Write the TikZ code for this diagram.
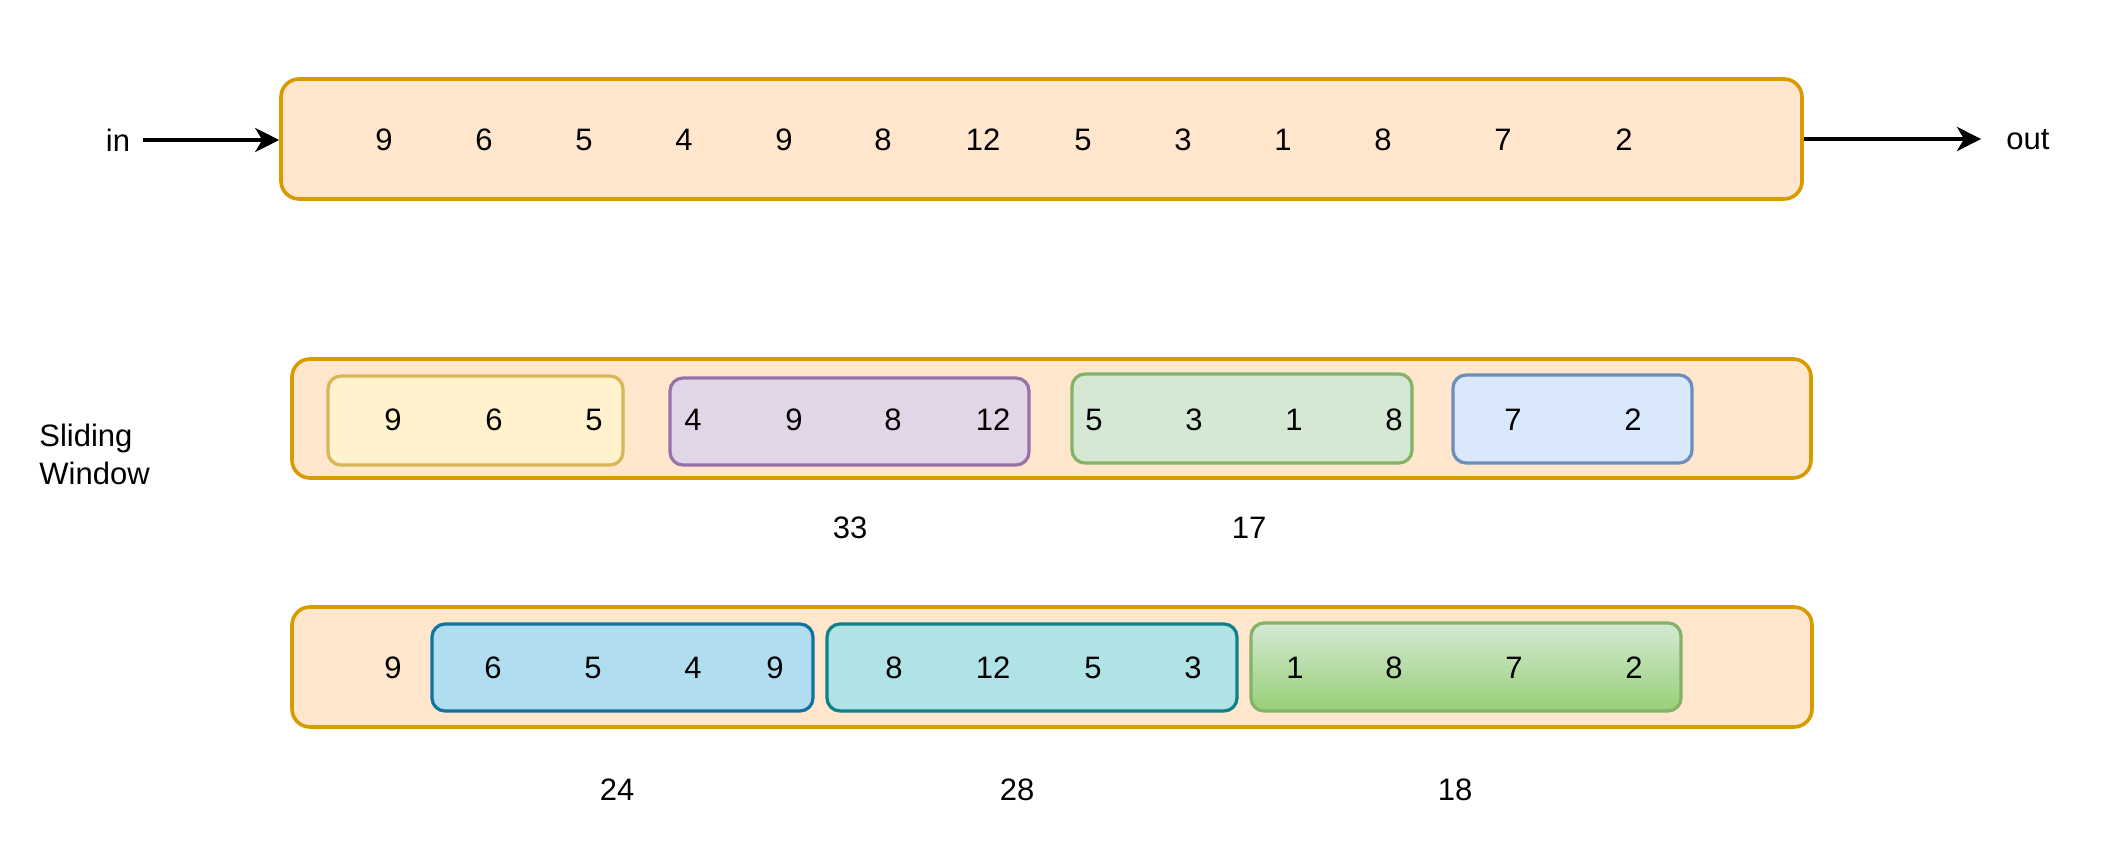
\documentclass[tikz,border=0pt]{standalone}
\usepackage{fontspec}
\setmainfont{Liberation Sans}
\usetikzlibrary{arrows.meta,fit}
\definecolor{orfill}{HTML}{FFE6CC}\definecolor{orline}{HTML}{D79B00}
\definecolor{yefill}{HTML}{FFF2CC}\definecolor{yeline}{HTML}{D6B656}
\definecolor{pufill}{HTML}{E1D5E7}\definecolor{puline}{HTML}{9673A6}
\definecolor{grfill}{HTML}{D5E8D4}\definecolor{grline}{HTML}{82B366}
\definecolor{blfill}{HTML}{DAE8FC}\definecolor{blline}{HTML}{6C8EBF}
\definecolor{cyfill}{HTML}{B1DDF0}\definecolor{cyline}{HTML}{10739E}
\definecolor{tefill}{HTML}{B0E3E6}\definecolor{teline}{HTML}{0E8088}
\definecolor{grdark}{HTML}{97D077}
\tikzset{
  outerbox/.style={draw=orline, fill=orfill, line width=1.8pt, rounded corners=9pt, inner sep=0pt},
  innerbox/.style={line width=1.6pt, rounded corners=6.5pt, inner sep=0pt},
  num/.style={inner sep=0pt, font=\fontsize{15.5}{19}\selectfont},
  lbl/.style={inner sep=0pt, font=\fontsize{15.5}{19}\selectfont},
  arr/.style={line width=2pt, -{Stealth[length=12pt,width=12pt,inset=3.5pt]}}
}
\begin{document}
\begin{tikzpicture}[x=0.5pt,y=-0.5pt]
\useasboundingbox (0,0) rectangle (2118,866);
% top row
\node[outerbox, fit={(281,79) (1802,199)}] (top) {};
\foreach \v/\x [count=\i] in {9/384,6/484,5/584,4/684,9/784,8/883,12/983,5/1083,3/1183,1/1283,8/1383,7/1503,2/1624}
  \node[num] (t\i) at (\x,140) {\v};
\node[lbl] (inl) at (118,140) {in};
\node[lbl] (outl) at (2028,140) {out};
\draw[arr, shorten <=6.5pt] (inl.east) -- (inl.east -| top.west);
\draw[arr, shorten >=12.5pt] (top.east) -- (top.east -| outl.west);
% sliding window label
\node[lbl, align=left, anchor=west] (sw) at (39,454) {Sliding\\Window};
% row 2
\node[outerbox, fit={(292,359) (1811,478)}] (r2) {};
\node[innerbox, draw=yeline, fill=yefill, fit={(328,376) (623,465)}] (ye) {};
\node[innerbox, draw=puline, fill=pufill, fit={(670,378) (1029,465)}] (pu) {};
\node[innerbox, draw=grline, fill=grfill, fit={(1072,374) (1412,463)}] (gr) {};
\node[innerbox, draw=blline, fill=blfill, fit={(1453,375) (1692,463)}] (bl) {};
\foreach \v/\x [count=\i] in {9/393,6/494,5/594,4/693,9/794,8/893,12/993,5/1094,3/1194,1/1294,8/1394,7/1513,2/1633}
  \node[num] (m\i) at (\x,420) {\v};
\node[num] (s33) at (850,528) {33};
\node[num] (s17) at (1249,528) {17};
% row 3
\node[outerbox, fit={(292,607) (1812,727)}] (r3) {};
\node[innerbox, draw=cyline, fill=cyfill, fit={(432,624) (813,711)}] (cy) {};
\node[innerbox, draw=teline, fill=tefill, fit={(827,624) (1237,711)}] (te) {};
\node[innerbox, draw=grline, top color=grfill, bottom color=grdark, fit={(1251,623) (1681,711)}] (gg) {};
\foreach \v/\x [count=\i] in {9/393,6/493,5/593,4/693,9/775,8/894,12/993,5/1093,3/1193,1/1295,8/1394,7/1514,2/1634}
  \node[num] (b\i) at (\x,668) {\v};
\node[num] (s24) at (617,790) {24};
\node[num] (s28) at (1017,790) {28};
\node[num] (s18) at (1455,790) {18};
\end{tikzpicture}
\end{document}
